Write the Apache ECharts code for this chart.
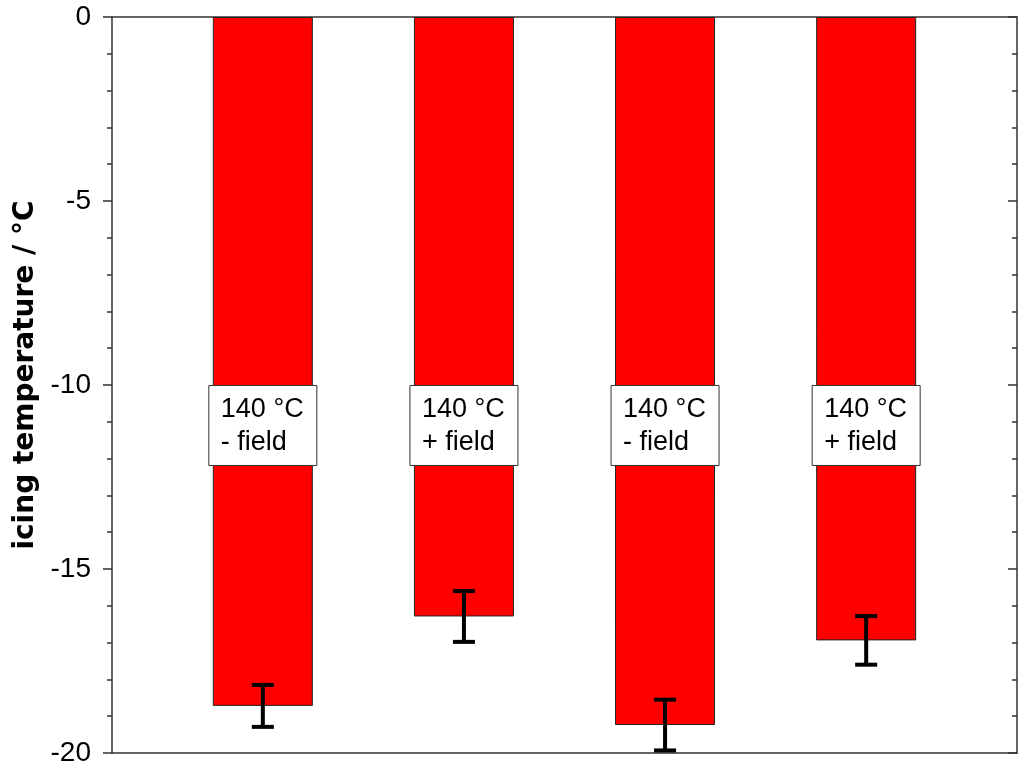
<!DOCTYPE html>
<html>
<head>
<meta charset="utf-8">
<script src="https://cdn.jsdelivr.net/npm/echarts@6/dist/echarts.min.js"></script>
<style>
	html, body { margin: 0; padding: 0; background: #fff; }
	#icingChart { width: 1024px; height: 768px; }
</style>
</head>
<body>
<div id="icingChart"></div>
<script>
// 样品位置 (x 轴)
var samplePos = [1, 2, 3, 4];
// 结冰温度 / °C
var icingTemp = [-18.72, -16.29, -19.24, -16.94];
// 误差
var icingErr = [0.57, 0.69, 0.69, 0.66];
// 柱内标注
var sampleLabels = ['140 °C\n- field', '140 °C\n+ field', '140 °C\n- field', '140 °C\n+ field'];

var axisColor = '#333';
var fontName = '"Liberation Sans", Arial, sans-serif';

var barData = [];
var errData = [];
var labelData = [];
for (var i = 0; i < samplePos.length; i++) {
	barData.push([samplePos[i], icingTemp[i]]);
	errData.push([samplePos[i], icingTemp[i] - icingErr[i], icingTemp[i] + icingErr[i]]);
	labelData.push([samplePos[i], sampleLabels[i]]);
}

var myChart = echarts.init(document.getElementById('icingChart'));
var option = {
	animation: false,
	grid: {
		left: 112,
		right: 7,
		top: 17,
		bottom: 15
	},
	xAxis: [
		{
			type: 'value',
			min: 0.25,
			max: 4.75,
			position: 'bottom',
			axisLine: { show: true, onZero: false, lineStyle: { color: axisColor, width: 1.5 } },
			axisTick: { show: false },
			axisLabel: { show: false },
			splitLine: { show: false }
		},
		{
			type: 'value',
			min: 0.25,
			max: 4.75,
			position: 'top',
			axisLine: { show: true, onZero: false, lineStyle: { color: axisColor, width: 1.5 } },
			axisTick: { show: false },
			axisLabel: { show: false },
			splitLine: { show: false }
		}
	],
	yAxis: [
		{
			type: 'value',
			min: -20,
			max: 0,
			interval: 5,
			position: 'left',
			name: 'icing temperature / °C',
			nameLocation: 'middle',
			nameGap: 70,
			nameTextStyle: {
				color: '#000',
				fontFamily: '"DejaVu Sans", sans-serif',
				fontSize: 28,
				fontWeight: 'bold',
				padding: [0, 0, 0, 20]
			},
			axisLine: { show: true, onZero: false, lineStyle: { color: axisColor, width: 1.5 } },
			axisTick: { show: true, inside: false, length: 9, lineStyle: { color: axisColor, width: 1.5 } },
			minorTick: { show: true, splitNumber: 5, length: 5, lineStyle: { color: axisColor, width: 1.5 } },
			axisLabel: { color: '#000', fontFamily: fontName, fontSize: 28, margin: 21 },
			splitLine: { show: false }
		},
		{
			type: 'value',
			min: -20,
			max: 0,
			interval: 5,
			position: 'right',
			axisLine: { show: true, onZero: false, lineStyle: { color: axisColor, width: 1.5 } },
			axisTick: { show: true, inside: true, length: 9, lineStyle: { color: axisColor, width: 1.5 } },
			minorTick: { show: true, splitNumber: 5, length: 5, lineStyle: { color: axisColor, width: 1.5 } },
			axisLabel: { show: false },
			splitLine: { show: false }
		}
	],
	series: [
		{
			// 柱子
			type: 'bar',
			xAxisIndex: 0,
			yAxisIndex: 0,
			barWidth: 100,
			itemStyle: { color: '#ff0000', borderColor: '#222', borderWidth: 1 },
			data: barData,
			z: 2
		},
		{
			// 误差线
			type: 'custom',
			xAxisIndex: 0,
			yAxisIndex: 0,
			data: errData,
			z: 4,
			renderItem: function(params, api) {
				var x = api.value(0);
				var low = api.coord([x, api.value(1)]);
				var high = api.coord([x, api.value(2)]);
				var half = 11;
				var st = { stroke: '#000', lineWidth: 4 };
				return {
					type: 'group',
					children: [
						{ type: 'line', shape: { x1: low[0], y1: low[1], x2: high[0], y2: high[1] }, style: st },
						{ type: 'line', shape: { x1: low[0] - half, y1: low[1], x2: low[0] + half, y2: low[1] }, style: st },
						{ type: 'line', shape: { x1: high[0] - half, y1: high[1], x2: high[0] + half, y2: high[1] }, style: st }
					]
				};
			}
		},
		{
			// 标注框
			type: 'custom',
			xAxisIndex: 0,
			yAxisIndex: 0,
			data: labelData,
			z: 5,
			renderItem: function(params, api) {
				var c = api.coord([api.value(0), -11.1]);
				var w = 108, h = 80;
				return {
					type: 'group',
					children: [
						{
							type: 'rect',
							shape: { x: c[0] - w / 2, y: c[1] - h / 2, width: w, height: h },
							style: { fill: '#fff', stroke: '#333', lineWidth: 1 }
						},
						{
							type: 'text',
							style: {
								x: c[0] - w / 2 + 12,
								y: c[1] + 1,
								text: sampleLabels[params.dataIndex],
								fill: '#000',
								font: '27px ' + fontName,
								lineHeight: 33,
								align: 'left',
								verticalAlign: 'middle'
							}
						}
					]
				};
			}
		}
	]
};
myChart.setOption(option);
</script>
</body>
</html>
